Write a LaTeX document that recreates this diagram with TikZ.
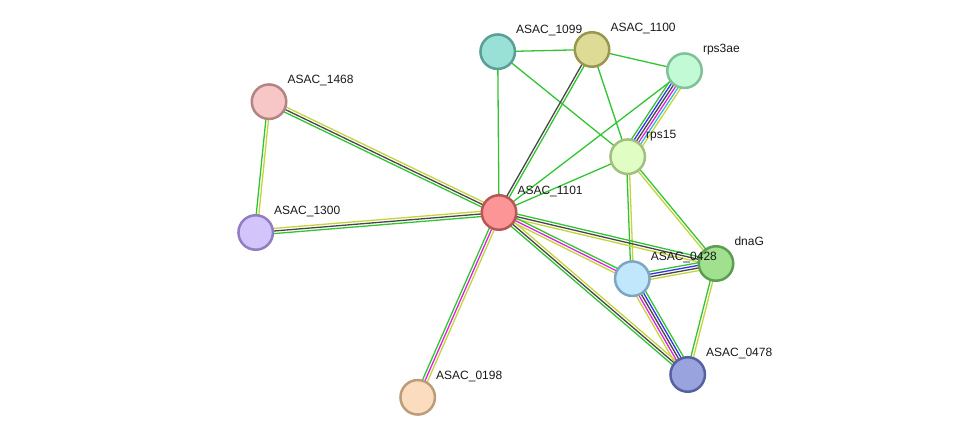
\documentclass[tikz,border=0pt]{standalone}
\usepackage{fontspec}
\setmainfont{Liberation Sans}
\usetikzlibrary{calc}
\pgfdeclarelayer{background}
\pgfsetlayers{background,main}
\definecolor{eg}{HTML}{33C433}
\definecolor{ek}{HTML}{474747}
\definecolor{ey}{HTML}{C4D43A}
\definecolor{em}{HTML}{DD22DD}
\definecolor{eb}{HTML}{3333EE}
\definecolor{ec}{HTML}{33BBDD}
\tikzset{
  prot/.style={circle, minimum size=34.5pt, inner sep=0pt, line width=2.5pt},
  lbl/.style={anchor=base west, inner sep=0pt, text=black!90, font=\fontsize{12}{14}\selectfont},
  edgeline/.style={line width=1.3pt},
}
\newcommand\bundle[4]{%
  \foreach \cc [count=\ii] in {#4} {
    \pgfmathsetmacro\off{(\ii-1-(#3-1)/2)*2.6}
    \draw[edgeline,draw=\cc] ($(#1.center)!\off pt!-90:(#2.center)$) -- ($(#2.center)!\off pt!90:(#1.center)$);
  }%
}
\begin{document}
\begin{tikzpicture}[x=1pt,y=-1pt]
\useasboundingbox (0,0) rectangle (976,443);
% nodes
\node[prot, fill={rgb,255:red,153;green,224;blue,214}, draw={rgb,255:red,90;green,158;blue,148}] (n1099) at (497.7,51.7) {};
\node[prot, fill={rgb,255:red,222;green,219;blue,150}, draw={rgb,255:red,154;green,150;blue,80}] (n1100) at (592,49.5) {};
\node[prot, fill={rgb,255:red,195;green,250;blue,214}, draw={rgb,255:red,127;green,193;blue,153}] (rps3ae) at (684.5,70.7) {};
\node[prot, fill={rgb,255:red,247;green,198;blue,198}, draw={rgb,255:red,180;green,132;blue,132}] (n1468) at (269,101.7) {};
\node[prot, fill={rgb,255:red,224;green,253;blue,196}, draw={rgb,255:red,161;green,192;blue,127}] (rps15) at (627.7,156.7) {};
\node[prot, fill={rgb,255:red,252;green,150;blue,150}, draw={rgb,255:red,184;green,86;blue,86}] (n1101) at (499,212.5) {};
\node[prot, fill={rgb,255:red,212;green,196;blue,252}, draw={rgb,255:red,145;green,125;blue,194}] (n1300) at (255.7,232.5) {};
\node[prot, fill={rgb,255:red,160;green,224;blue,142}, draw={rgb,255:red,92;green,158;blue,79}] (dnaG) at (716,263.5) {};
\node[prot, fill={rgb,255:red,193;green,231;blue,252}, draw={rgb,255:red,127;green,166;blue,192}] (n0428) at (632.3,278.7) {};
\node[prot, fill={rgb,255:red,153;green,163;blue,222}, draw={rgb,255:red,86;green,97;blue,160}] (n0478) at (687.7,374.5) {};
\node[prot, fill={rgb,255:red,252;green,220;blue,190}, draw={rgb,255:red,188;green,157;blue,123}] (n0198) at (417.7,397.3) {};
% labels
\node[lbl] (l1099) at ($(n1099.center)+(18.3,-17.7)$) {ASAC\_1099};
\node[lbl] (l1100) at ($(n1100.center)+(18.3,-17.7)$) {ASAC\_1100};
\node[lbl] (lrps3ae) at ($(rps3ae.center)+(18.3,-17.7)$) {rps3ae};
\node[lbl] (l1468) at ($(n1468.center)+(18.3,-17.7)$) {ASAC\_1468};
\node[lbl] (lrps15) at ($(rps15.center)+(18.3,-17.7)$) {rps15};
\node[lbl] (l1101) at ($(n1101.center)+(18.3,-17.7)$) {ASAC\_1101};
\node[lbl] (l1300) at ($(n1300.center)+(18.3,-17.7)$) {ASAC\_1300};
\node[lbl] (ldnaG) at ($(dnaG.center)+(18.3,-17.7)$) {dnaG};
\node[lbl] (l0428) at ($(n0428.center)+(18.3,-17.7)$) {ASAC\_0428};
\node[lbl] (l0478) at ($(n0478.center)+(18.3,-17.7)$) {ASAC\_0478};
\node[lbl] (l0198) at ($(n0198.center)+(18.3,-17.7)$) {ASAC\_0198};
% edges
\begin{pgfonlayer}{background}
\bundle{n1099}{n1100}{1}{eg}
\bundle{n1099}{n1101}{1}{eg}
\bundle{n1099}{rps15}{1}{eg}
\bundle{n1100}{rps3ae}{1}{eg}
\bundle{n1100}{rps15}{1}{eg}
\bundle{n1100}{n1101}{2}{eg,ek}
\bundle{rps3ae}{n1101}{1}{eg}
\bundle{rps3ae}{rps15}{6}{ey,ec,em,ek,eb,eg}
\bundle{rps15}{n1101}{1}{eg}
\bundle{rps15}{n0428}{2}{ey,eg}
\bundle{rps15}{dnaG}{2}{eg,ey}
\bundle{n1468}{n1101}{3}{ey,ek,eg}
\bundle{n1468}{n1300}{2}{ey,eg}
\bundle{n1300}{n1101}{3}{ey,ek,eg}
\bundle{n1101}{n0198}{3}{ey,em,eg}
\bundle{n1101}{dnaG}{3}{eg,ek,ey}
\bundle{n1101}{n0428}{3}{eg,em,ey}
\bundle{n1101}{n0478}{3}{ey,ek,eg}
\bundle{n0428}{dnaG}{4}{eg,eb,ek,ey}
\bundle{n0428}{n0478}{5}{eg,eb,ek,em,ey}
\bundle{dnaG}{n0478}{2}{ey,eg}
\end{pgfonlayer}
\end{tikzpicture}
\end{document}
